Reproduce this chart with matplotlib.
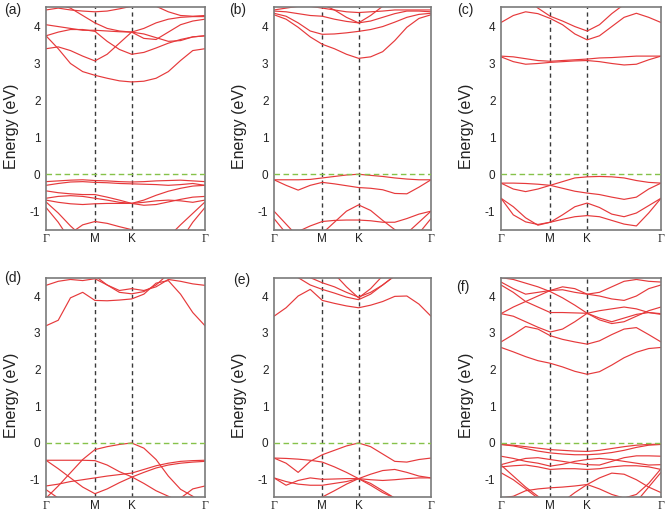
import matplotlib
matplotlib.use("Agg")
import matplotlib.pyplot as plt

plt.rcParams['font.family'] = ['Liberation Sans', 'DejaVu Sans']
plt.rcParams['axes.unicode_minus'] = False

# ---------------- data ----------------
KPATH = [0, 0.25, 0.5, 0.75, 1.0, 1.25, 1.5, 1.75, 2.0, 2.25, 2.5, 2.75, 3.0, 3.25]
KLABEL_POS = [0, 1.0, 1.75, 3.25]
KLABELS = ['Γ', 'M', 'K', 'Γ']
YTICKS = [-1, 0, 1, 2, 3, 4]
PANEL_LABELS = ['(a)', '(b)', '(c)', '(d)', '(e)', '(f)']

BANDS_A = [
    [3.75, 3.4, 3.0, 2.78, 2.68, 2.6, 2.53, 2.5, 2.52, 2.6, 2.78, 3.08, 3.35, 3.4],
    [3.4, 3.45, 3.35, 3.2, 3.07, 3.25, 3.55, 3.85, 3.8, 3.7, 3.6, 3.62, 3.72, 3.75],
    [3.75, 3.85, 3.92, 3.92, 3.87, 3.6, 3.38, 3.25, 3.3, 3.42, 3.55, 3.65, 3.72, 3.75],
    [4.05, 4.0, 3.95, 3.9, 3.9, 3.88, 3.86, 3.85, 3.95, 4.1, 4.2, 4.25, 4.27, 4.27],
    [4.45, 4.5, 4.45, 4.42, 4.4, 4.42, 4.48, 4.55, 4.6, 4.55, 4.4, 4.3, 4.28, 4.3],
    [4.6, 4.6, 4.5, 4.3, 4.1, 3.95, 3.88, 3.85, 3.68, 3.65, 3.85, 4.05, 4.15, 4.2],
    [-0.2, -0.18, -0.16, -0.15, -0.17, -0.18, -0.2, -0.21, -0.2, -0.18, -0.17, -0.16, -0.18, -0.2],
    [-0.3, -0.25, -0.21, -0.2, -0.22, -0.23, -0.25, -0.26, -0.27, -0.28, -0.3, -0.28, -0.25, -0.3],
    [-0.45, -0.5, -0.53, -0.55, -0.55, -0.62, -0.7, -0.79, -0.7, -0.57, -0.46, -0.38, -0.32, -0.3],
    [-0.65, -0.6, -0.58, -0.6, -0.65, -0.7, -0.76, -0.79, -0.84, -0.82, -0.75, -0.68, -0.62, -0.6],
    [-0.7, -0.76, -0.8, -0.82, -0.8, -0.79, -0.79, -0.79, -0.76, -0.72, -0.7, -0.72, -0.76, -0.7],
    [-0.75, -1.05, -1.4, -1.7, -1.85, -1.9, -1.9, -1.9, -1.9, -1.85, -1.7, -1.37, -1.06, -0.75],
    [-1.9, -1.75, -1.6, -1.37, -1.28, -1.33, -1.42, -1.5, -1.6, -1.75, -1.9, -1.9, -1.9, -1.9],
    [-0.9, -1.3, -1.8, -2.0, -2.0, -2.0, -2.0, -2.0, -2.0, -2.0, -2.0, -1.8, -1.3, -0.9],
]

BANDS_B = [
    [4.32, 4.2, 3.98, 3.72, 3.52, 3.4, 3.25, 3.14, 3.18, 3.32, 3.62, 3.98, 4.22, 4.32],
    [4.36, 4.28, 4.1, 3.88, 3.79, 3.8, 3.83, 3.87, 3.92, 4.0, 4.12, 4.25, 4.33, 4.36],
    [4.42, 4.4, 4.35, 4.3, 4.28, 4.2, 4.14, 4.1, 4.15, 4.25, 4.35, 4.42, 4.42, 4.4],
    [4.45, 4.5, 4.55, 4.55, 4.5, 4.45, 4.4, 4.38, 4.4, 4.42, 4.45, 4.45, 4.45, 4.45],
    [5.0, 4.9, 4.8, 4.7, 4.6, 4.45, 4.25, 4.1, 4.3, 4.55, 4.8, 5.0, 5.0, 5.0],
    [-0.15, -0.15, -0.15, -0.14, -0.1, -0.06, -0.02, 0.0, -0.03, -0.06, -0.1, -0.13, -0.15, -0.15],
    [-0.15, -0.3, -0.43, -0.3, -0.22, -0.26, -0.31, -0.36, -0.38, -0.42, -0.52, -0.53, -0.35, -0.15],
    [-1.0, -1.35, -1.7, -1.9, -2.0, -2.0, -2.0, -2.0, -2.0, -2.0, -1.9, -1.6, -1.3, -1.0],
    [-2.0, -1.8, -1.55, -1.4, -1.28, -1.25, -1.24, -1.24, -1.26, -1.3, -1.3, -1.2, -1.08, -1.0],
    [-2.0, -2.0, -2.0, -1.8, -1.6, -1.3, -1.0, -0.83, -0.98, -1.25, -1.5, -1.7, -1.9, -2.0],
    [-1.2, -1.6, -2.0, -2.0, -2.0, -2.0, -2.0, -2.0, -2.0, -2.0, -2.0, -2.0, -1.6, -1.2],
]

BANDS_C = [
    [4.11, 4.3, 4.4, 4.35, 4.22, 4.05, 3.8, 3.64, 3.75, 4.0, 4.25, 4.36, 4.25, 4.11],
    [5.0, 5.0, 4.8, 4.5, 4.28, 4.15, 4.0, 3.88, 4.05, 4.35, 4.6, 4.9, 5.0, 5.0],
    [3.2, 3.18, 3.13, 3.08, 3.06, 3.08, 3.1, 3.12, 3.15, 3.16, 3.18, 3.2, 3.2, 3.2],
    [3.18, 3.05, 2.98, 3.0, 3.03, 3.05, 3.07, 3.08, 3.05, 3.0, 2.96, 2.98, 3.1, 3.2],
    [-0.24, -0.24, -0.25, -0.27, -0.3, -0.2, -0.1, -0.07, -0.06, -0.07, -0.1, -0.17, -0.22, -0.24],
    [-0.24, -0.4, -0.47, -0.4, -0.3, -0.38, -0.46, -0.51, -0.55, -0.62, -0.68, -0.62, -0.4, -0.24],
    [-0.65, -0.88, -1.18, -1.38, -1.3, -1.1, -0.88, -0.78, -0.9, -1.08, -1.15, -1.05, -0.85, -0.65],
    [-0.65, -1.1, -1.29, -1.36, -1.3, -1.22, -1.15, -1.12, -1.15, -1.25, -1.35, -1.4, -1.05, -0.65],
]

BANDS_D = [
    [3.19, 3.34, 3.95, 4.1, 3.88, 3.87, 3.89, 3.92, 4.05, 4.35, 4.42, 4.05, 3.55, 3.19],
    [4.29, 4.4, 4.45, 4.42, 4.47, 4.3, 4.15, 4.2, 4.15, 4.25, 4.45, 4.4, 4.33, 4.29],
    [5.0, 5.0, 5.0, 4.8, 4.55, 4.3, 4.1, 4.06, 4.12, 4.3, 4.6, 5.0, 5.0, 5.0],
    [-1.5, -1.17, -0.81, -0.45, -0.18, -0.1, -0.04, 0.0, -0.14, -0.45, -0.9, -1.26, -1.45, -1.7],
    [-0.47, -0.47, -0.47, -0.47, -0.48, -0.6, -0.78, -0.92, -1.1, -1.3, -1.45, -1.6, -1.7, -1.8],
    [-1.17, -1.12, -1.05, -1.0, -0.95, -0.9, -0.86, -0.82, -0.72, -0.62, -0.55, -0.5, -0.48, -0.47],
    [-0.47, -0.7, -0.95, -1.2, -1.38, -1.25, -1.08, -0.93, -0.8, -0.68, -0.6, -0.55, -0.52, -0.5],
    [-1.27, -1.5, -1.8, -2.0, -2.0, -2.0, -2.0, -2.0, -2.0, -2.0, -1.8, -1.5, -1.25, -1.17],
]

BANDS_E = [
    [3.45, 3.68, 4.0, 4.18, 3.88, 3.8, 3.73, 3.68, 3.75, 3.85, 3.99, 4.0, 3.78, 3.45],
    [5.0, 4.8, 4.5, 4.3, 4.18, 4.08, 3.97, 3.9, 4.05, 4.3, 4.55, 5.0, 5.0, 5.0],
    [5.0, 5.0, 4.7, 4.5, 4.36, 4.25, 4.1, 3.97, 4.1, 4.3, 4.55, 4.8, 5.0, 5.0],
    [5.0, 5.0, 5.0, 5.0, 4.9, 4.6, 4.25, 3.95, 4.2, 4.55, 4.9, 5.0, 5.0, 5.0],
    [-0.41, -0.55, -0.8, -0.5, -0.32, -0.2, -0.08, 0.0, -0.1, -0.3, -0.5, -0.52, -0.45, -0.41],
    [-0.41, -0.42, -0.44, -0.47, -0.52, -0.65, -0.8, -0.97, -1.15, -1.35, -1.5, -1.7, -1.8, -1.9],
    [-0.95, -1.05, -1.12, -1.15, -1.15, -1.1, -1.05, -0.97, -0.85, -0.75, -0.72, -0.8, -0.9, -0.95],
    [-0.95, -1.15, -1.02, -0.95, -0.99, -0.98, -0.97, -0.97, -1.0, -1.02, -1.0, -0.97, -0.95, -0.95],
    [-2.0, -1.8, -1.65, -1.55, -1.47, -1.3, -1.12, -0.97, -1.1, -1.3, -1.5, -1.6, -1.55, -1.5],
]

BANDS_F = [
    [2.6, 2.48, 2.35, 2.24, 2.17, 2.07, 1.95, 1.87, 1.94, 2.12, 2.32, 2.47, 2.57, 2.6],
    [2.75, 2.95, 3.17, 3.1, 2.92, 2.82, 2.75, 2.69, 2.78, 2.95, 3.1, 3.14, 2.95, 2.75],
    [3.52, 3.45, 3.3, 3.15, 3.02, 3.1, 3.3, 3.53, 3.4, 3.3, 3.4, 3.5, 3.55, 3.52],
    [4.3, 4.1, 3.85, 3.7, 3.55, 3.55, 3.54, 3.53, 3.6, 3.65, 3.7, 3.65, 3.55, 3.5],
    [3.52, 3.7, 3.85, 4.0, 4.15, 4.17, 4.1, 4.05, 4.0, 3.92, 3.88, 4.0, 4.2, 4.3],
    [4.38, 4.2, 4.05, 4.1, 4.15, 4.25, 4.2, 4.05, 4.1, 4.25, 4.4, 4.45, 4.4, 4.38],
    [4.5, 4.45, 4.35, 4.25, 4.12, 3.95, 3.75, 3.53, 3.35, 3.25, 3.3, 3.45, 3.6, 3.7],
    [-0.04, -0.06, -0.1, -0.14, -0.18, -0.2, -0.22, -0.23, -0.2, -0.15, -0.1, -0.06, -0.04, -0.03],
    [-0.04, -0.08, -0.15, -0.22, -0.27, -0.3, -0.32, -0.32, -0.3, -0.26, -0.2, -0.12, -0.06, -0.04],
    [-0.36, -0.42, -0.5, -0.55, -0.63, -0.58, -0.5, -0.45, -0.42, -0.45, -0.5, -0.55, -0.6, -0.59],
    [-0.59, -0.5, -0.42, -0.4, -0.45, -0.5, -0.55, -0.59, -0.6, -0.5, -0.4, -0.35, -0.35, -0.36],
    [-0.65, -0.62, -0.6, -0.65, -0.72, -0.7, -0.7, -0.72, -0.7, -0.65, -0.62, -0.62, -0.65, -0.72],
    [-0.81, -1.0, -1.25, -1.5, -1.7, -1.6, -1.35, -1.13, -0.95, -0.82, -0.85, -1.0, -1.2, -1.35],
    [-1.5, -1.45, -1.3, -1.25, -1.22, -1.2, -1.17, -1.13, -1.25, -1.4, -1.5, -1.4, -1.1, -0.7],
    [-0.6, -0.9, -1.2, -1.45, -1.7, -2.0, -2.0, -2.0, -2.0, -2.0, -1.9, -1.6, -1.2, -0.8],
]

ALL_BANDS = [BANDS_A, BANDS_B, BANDS_C, BANDS_D, BANDS_E, BANDS_F]

# ---------------- layout ----------------
W, H = 666, 514
# pixel boxes: left, right, top, bottom
BOXES = [(46, 205, 7, 230), (274, 431, 7, 230), (501, 661, 7, 230),
         (46, 205, 278, 497), (274, 431, 278, 497), (501, 661, 278, 497)]
YLIMS = [(-1.51, 4.53)] * 3 + [(-1.47, 4.49)] * 3
LABEL_XY = [(4, 10), (229, 10), (457, 10), (4, 278), (233, 280), (456, 287)]

RED = '#e6393b'
GRID_DASH = '#3a3a3a'
GREEN = '#86c24a'
FRAME = '#7a7a7a'

fig = plt.figure(figsize=(W / 100, H / 100), dpi=100)

for i, bands in enumerate(ALL_BANDS):
    l, r, t, b = BOXES[i]
    ax = fig.add_axes([l / W, 1 - b / H, (r - l) / W, (b - t) / H])
    for band in bands:
        ax.plot(KPATH, band, color=RED, lw=0.85, solid_joinstyle='round',
                solid_capstyle='round', zorder=2)
    for xk in KLABEL_POS[1:3]:
        ax.axvline(xk, color=GRID_DASH, lw=1.0, ls=(0, (3, 2.5)), zorder=1)
    ax.axhline(0, color=GREEN, lw=1.0, ls=(0, (4, 2.5)), zorder=3)
    ax.set_xlim(KLABEL_POS[0], KLABEL_POS[-1])
    ax.set_ylim(*YLIMS[i])
    ax.set_yticks(YTICKS)
    ax.set_yticklabels([str(v) for v in YTICKS], fontsize=8.5, color='#222222')
    ax.set_xticks(KLABEL_POS)
    ax.set_xticklabels(KLABELS, fontsize=8.5, color='#222222')
    for lab in ax.get_xticklabels():
        if lab.get_text() == 'Γ':
            lab.set_family(['Liberation Serif', 'DejaVu Serif'])
    ax.tick_params(axis='y', length=0, pad=4)
    ax.tick_params(axis='x', length=0, pad=2)
    for sp in ax.spines.values():
        sp.set_color(FRAME)
        sp.set_linewidth(1.2)
    ax.set_ylabel('Energy (eV)', fontsize=11.5, color='#222222')
    # x coordinate is the right edge of the rotated label
    ax.yaxis.set_label_coords(-(l - (l - 27)) / (r - l), 0.465)
    lx, ly = LABEL_XY[i]
    fig.text(lx / W, 1 - ly / H, PANEL_LABELS[i], fontsize=10, ha='left', va='center',
             color='#222222')

fig.savefig('out.png', dpi=100)
